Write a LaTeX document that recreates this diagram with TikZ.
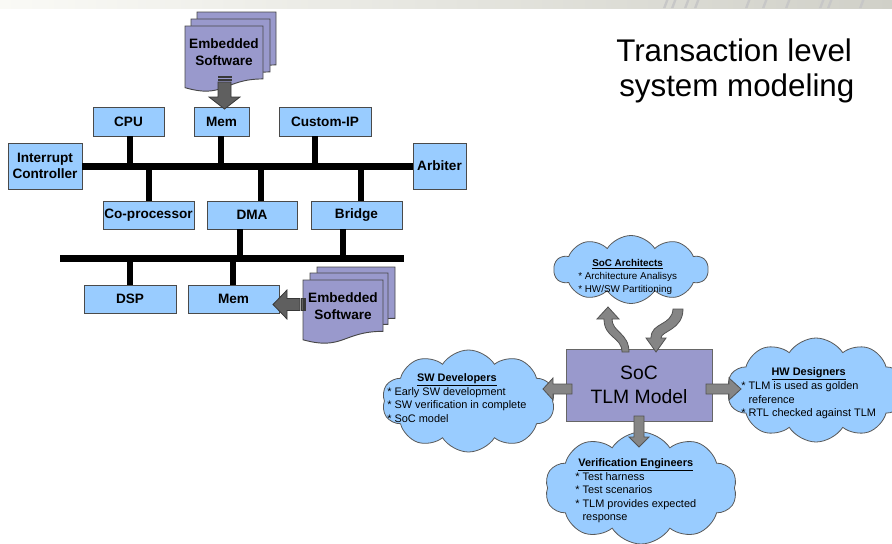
\documentclass[tikz,border=0pt]{standalone}
\usepackage{fontspec}
\setmainfont{Liberation Sans}
\usetikzlibrary{shapes.symbols,calc}

\definecolor{skyblue}{HTML}{99CCFF}
\definecolor{lavender}{HTML}{9999CC}
\definecolor{edgegray}{HTML}{4A4A4A}
\definecolor{arrowdark}{HTML}{5F5F5F}
\definecolor{arrowmid}{HTML}{858585}
\definecolor{bandgray}{HTML}{D0D0C8}
\definecolor{bandlight}{HTML}{FAFAF6}

% flowchart "document" sheet: x0, y0, width, height
\newcommand{\docsheet}[4]{%
  \filldraw[sheet] (#1,#2) -- ({#1+#3},#2) -- ({#1+#3},{#2+0.802*#4})
    .. controls ({#1+0.5*#3},{#2+0.802*#4}) and ({#1+0.5*#3},{#2+1.107*#4})
    .. (#1,{#2+0.934*#4}) -- cycle;}
% bullet mark for the cloud lists
\newcommand{\bul}{{*}~}

\begin{document}
\begin{tikzpicture}[x=0.75pt,y=-0.75pt,
  sz/.style 2 args={minimum width=#1*0.75pt, minimum height=#2*0.75pt},
  blk/.style={draw=edgegray, line width=0.7pt, fill=skyblue, inner sep=0pt,
    align=center, font=\fontsize{10.2}{12.5}\selectfont\bfseries},
  bus/.style={line width=5.25pt},
  stub/.style={line width=4.5pt},
  sheet/.style={draw=black!72, line width=0.7pt, fill=lavender},
  fatdark/.style={draw=black!78, line width=0.6pt, fill=arrowdark},
  fatmid/.style={draw=black!68, line width=0.6pt, fill=arrowmid},
  cloudy/.style 2 args={cloud, cloud puffs=10, cloud puff arc=115,
    cloud ignores aspect, draw=black!65, line width=0.6pt, fill=skyblue,
    inner sep=0pt, minimum width=#1*0.75pt, minimum height=#2*0.75pt},
  cloudtxt/.style={anchor=base west, inner sep=0pt,
    font=\fontsize{8.2}{10.1}\selectfont},
  cloudsmall/.style={anchor=base west, inner sep=0pt,
    font=\fontsize{7.4}{10.1}\selectfont},
]
\useasboundingbox (0,0) rectangle (892,543);
\clip (0,0) rectangle (892,543);

% ---- header band ----
\shade[left color=bandlight, right color=bandgray] (0,0) rectangle (892,8);
\foreach \sx in {663,671,684,694,745,762,785,819,827,859}
  \fill[black!22] (\sx,8) -- (\sx+2.5,8) -- (\sx+5.5,0) -- (\sx+3,0) -- cycle;

% ---- title ----
\node[anchor=base west, inner sep=0pt, font=\fontsize{23.5}{28}\selectfont]
  (title1) at (616,61) {Transaction level};
\node[anchor=base west, inner sep=0pt, font=\fontsize{23.5}{28}\selectfont]
  (title2) at (619,96) {system modeling};

% ---- embedded software stack (top) ----
\docsheet{197}{12}{79}{66}
\docsheet{191}{19}{79}{66}
\docsheet{185}{26}{78}{66}
\node[inner sep=0pt, align=center, font=\fontsize{10.2}{12.75}\selectfont\bfseries]
  (swA) at (224,52.5) {Embedded\\Software};

% ---- blocks ----
\node[blk, sz={71}{29}] (cpu)  at (128.5,121.5) {CPU};
\node[blk, sz={55}{29}] (memA) at (221.5,121.5) {Mem};
\node[blk, sz={92}{29}] (cip)  at (325,121.5) {Custom-IP};
\node[blk, sz={74}{46}] (intc) at (45,166) {Interrupt\\Controller};
\node[blk, sz={53}{46}] (arb)  at (439.5,166) {Arbiter};
\node[blk, sz={91}{28}] (cop)  at (148.5,215) {Co-processor};
\node[blk, sz={90}{28}] (dma)  at (252,215) {DMA};
\node[blk, sz={91}{28}] (brg)  at (356.5,215) {Bridge};
\node[blk, sz={92}{28}] (dsp)  at (130,299) {DSP};
\node[blk, sz={91}{28}] (memB) at (233.5,299) {Mem};

% ---- system bus ----
\draw[bus] (intc.east) -- (arb.west);
\coordinate (tCpu) at ($(cpu.south)+(1.5,0)$);
\coordinate (tMem) at ($(memA.south)+(-0.5,0)$);
\coordinate (tCip) at ($(cip.south)+(-10,0)$);
\coordinate (tCop) at ($(cop.north)+(0.5,0)$);
\coordinate (tDma) at ($(dma.north)+(9,0)$);
\coordinate (tBrg) at ($(brg.north)+(4.5,0)$);
\foreach \t in {tCpu,tMem,tCip,tCop,tDma,tBrg}
  \draw[stub] (\t) -- (\t |- intc.east);

% ---- peripheral bus ----
\coordinate (pW) at (60,258.5);
\coordinate (pE) at (404,258.5);
\draw[bus] (pW) -- (pE);
\coordinate (uDma) at ($(dma.south)+(-12,0)$);
\coordinate (uBrg) at ($(brg.south)+(-13.5,0)$);
\coordinate (uDsp) at (dsp.north);
\coordinate (uMem) at ($(memB.north)+(-0.5,0)$);
\foreach \t in {uDma,uBrg,uDsp,uMem}
  \draw[stub] (\t) -- (\t |- pW);

% ---- embedded software stack (bottom) ----
\docsheet{317}{267}{78}{64}
\docsheet{310}{273}{78}{64}
\docsheet{303}{280}{80}{64}
\node[inner sep=0pt, align=center, font=\fontsize{10.2}{12.75}\selectfont\bfseries]
  (swB) at (343,306.5) {Embedded\\Software};

% ---- striped block arrows: software loaded into memories ----
\filldraw[fatdark] (218,76) rectangle (231,77.5);
\filldraw[fatdark] (218,79) rectangle (231,80.5);
\filldraw[fatdark] (218,82) -- (231,82) -- (231,97) -- (240,97) -- (224.5,109)
  -- (209,97) -- (218,97) -- cycle;
\filldraw[fatdark] (304,298.5) rectangle (305.5,310.5);
\filldraw[fatdark] (301.5,298.5) rectangle (303,310.5);
\filldraw[fatdark] (300,298.5) -- (287,298.5) -- (287,290) -- (273,304.5)
  -- (287,319) -- (287,310.5) -- (300,310.5) -- cycle;

% ---- stakeholder clouds ----
\node[cloudy={154}{68}]  (arch) at (631,269.5) {};
\node[cloudy={173}{102}] (swd)  at (468.5,401) {};
\node[cloudy={178}{104}] (hwd)  at (816,390) {};
\node[cloudy={192}{112}] (ver)  at (641,488) {};

\node[cloudsmall] (archTxt) at (578,266) {\begin{tabular}[t]{@{}l@{}}
  \multicolumn{1}{@{}c@{}}{\underline{\textbf{SoC Architects}}}\\
  \bul Architecture Analisys\\
  \bul HW/SW Partitioning\end{tabular}};
\node[cloudtxt] (swdTxt) at (387,381) {\begin{tabular}[t]{@{}l@{}}
  \multicolumn{1}{@{}c@{}}{\underline{\textbf{SW Developers}}}\\
  \bul Early SW development\\
  \bul SW verification in complete\\
  \bul SoC model\end{tabular}};
\node[cloudtxt] (hwdTxt) at (741,375.5) {\begin{tabular}[t]{@{}l@{}}
  \multicolumn{1}{@{}c@{}}{\underline{\textbf{HW Designers}}}\\
  \bul TLM is used as golden\\
  \phantom{\bul}reference\\
  \bul RTL checked against TLM\end{tabular}};
\node[cloudtxt] (verTxt) at (575,466) {\begin{tabular}[t]{@{}l@{}}
  \multicolumn{1}{@{}c@{}}{\underline{\textbf{Verification Engineers}}}\\
  \bul Test harness\\
  \bul Test scenarios\\
  \bul TLM provides expected\\
  \phantom{\bul}response\end{tabular}};

% ---- SoC TLM model ----
\node[draw=black!60, line width=0.7pt, fill=lavender, sz={146}{72}, align=center,
  font=\fontsize{14.5}{18.5}\selectfont] (soc) at (639,385) {SoC\\TLM Model};

% ---- block arrows around the model ----
\filldraw[fatmid] (572,384) -- (553,384) -- (553,378) -- (543,389) -- (553,400)
  -- (553,394) -- (572,394) -- cycle;
\filldraw[fatmid] (706,384) -- (729,384) -- (729,378) -- (741,389) -- (729,400)
  -- (729,394) -- (706,394) -- cycle;
\filldraw[fatmid] (634,416) -- (634,437) -- (629,437) -- (639,447) -- (649,437)
  -- (644,437) -- (644,416) -- cycle;
% curved arrows between model and architects
\filldraw[fatmid] (622,352) .. controls (622,337) and (604,338) .. (604,319)
  -- (597,319) -- (608,307) -- (619,319) -- (612,319)
  .. controls (612,332) and (629,333) .. (629,352) -- cycle;
\filldraw[fatmid] (673,309) .. controls (672,326) and (651,322) .. (651,338)
  -- (646,338) -- (656,352) -- (666,338) -- (661,338)
  .. controls (661,331) and (683,330) .. (683,309) -- cycle;
\end{tikzpicture}
\end{document}
